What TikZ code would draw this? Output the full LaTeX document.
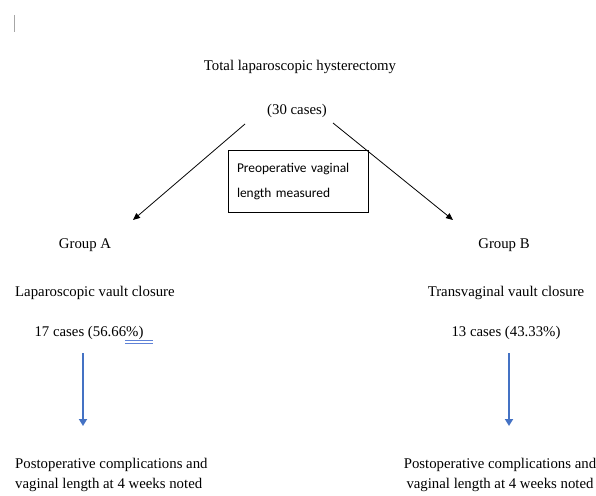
\documentclass[tikz,border=0pt]{standalone}
\usepackage{fontspec}
\setmainfont{Liberation Serif}
\newfontfamily\boxfont{Carlito}
\usetikzlibrary{arrows.meta}
\definecolor{wordblue}{RGB}{68,114,196}
\definecolor{spellblue}{RGB}{95,130,215}

\begin{document}
\begin{tikzpicture}[x=1pt,y=-1pt,
		Label/.style={inner sep=0pt,font=\fontsize{14.8}{20.5}\selectfont},
		NoteBox/.style={draw,line width=0.8pt,minimum width=140pt,minimum height=62pt,
			text width=122pt,inner sep=9pt,align=left,
			font=\boxfont\fontsize{13.4}{25}\selectfont},
		SplitEdge/.style={line width=0.8pt,-{Triangle[length=7pt,width=6pt]}},
		FlowEdge/.style={draw=wordblue,line width=2.4pt,-{Triangle[length=7pt,width=8pt]}}]
		\useasboundingbox (0,0) rectangle (596,495);
		%\draw[help lines] (0,0) grid[step=50] (596,495);
		\draw[gray!70,line width=1pt] (14,15) -- (14,32);
		\node[Label] (THL) at (300,67) {Total laparoscopic hysterectomy};
		\node[Label] (N30) at (297,111) {(30 cases)};
		\node[NoteBox] (PVL) at (298,181) {Preoperative vaginal\\length measured};
		{
			% group A, left column
			\node[Label] (GA) at (85,245) {Group A};
			\node[Label,anchor=west] (LVC) at (15,293) {Laparoscopic vault closure};
			\node[Label] (NA) at (89,333) {17 cases (56.66\%)};
			\node[Label,anchor=west,align=left] (PA) at (15,475) {Postoperative complications and\\vaginal length at 4 weeks noted};
		}
		{
			% group B, right column
			\node[Label] (GB) at (504,245) {Group B};
			\node[Label] (TVC) at (506,293) {Transvaginal vault closure};
			\node[Label] (NB) at (506,333) {13 cases (43.33\%)};
			\node[Label,align=center] (PB) at (500,475) {Postoperative complications and\\vaginal length at 4 weeks noted};
		}
		\draw[spellblue,line width=0.7pt] (125,340.5) -- (153,340.5)
			(125,343) -- (153,343);
		\coordinate (SL) at (245,124);
		\coordinate (SR) at (333,123);
		\coordinate (TA) at (133,220);
		\coordinate (TB) at (453,220);
		\coordinate (DA1) at (83,353);
		\coordinate (DA2) at (83,426);
		\coordinate (DB1) at (509,353);
		\coordinate (DB2) at (509,426);
		\draw[SplitEdge] (SL) -- (TA);
		\draw[SplitEdge] (SR) -- (TB);
		\draw[FlowEdge] (DA1) -- (DA2);
		\draw[FlowEdge] (DB1) -- (DB2);
	\end{tikzpicture}
\end{document}
